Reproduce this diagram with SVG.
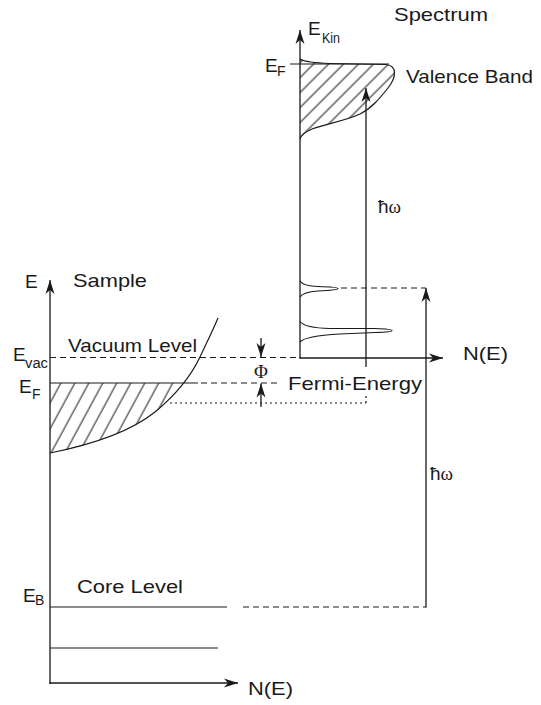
<svg xmlns="http://www.w3.org/2000/svg" width="541" height="705" viewBox="0 0 541 705">
<style>
.ln{stroke:#1a1a1a;stroke-width:1.2;fill:none}
.ax{stroke:#1a1a1a;stroke-width:1.3;fill:none;marker-end:url(#ah)}
.ds{stroke:#1a1a1a;stroke-width:1.2;fill:none;stroke-dasharray:6 4}
.dt{stroke:#1a1a1a;stroke-width:1.2;fill:none;stroke-dasharray:2 3}
.t{font-family:"Liberation Sans",Arial,sans-serif;font-size:19px;fill:#1a1a1a}
.s{font-family:"Liberation Sans",Arial,sans-serif;font-size:14px;fill:#1a1a1a}
.g{font-family:"Liberation Serif","Times New Roman",serif;font-size:19px;fill:#1a1a1a}
</style>
<defs>
<marker id="ah" viewBox="-15 -6 16 12" refX="0" refY="0" markerWidth="16" markerHeight="12" orient="auto" markerUnits="userSpaceOnUse">
<path d="M0,0 L-14,-4.5 L-10,0 L-14,4.5 Z" fill="#1a1a1a"/>
</marker>
<pattern id="hs" width="12.3" height="20" patternUnits="userSpaceOnUse" patternTransform="rotate(28.4)">
<line x1="2" y1="0" x2="2" y2="20" stroke="#1a1a1a" stroke-width="1"/>
</pattern>
<pattern id="hv" width="10.6" height="20" patternUnits="userSpaceOnUse" patternTransform="rotate(45)">
<line x1="2" y1="0" x2="2" y2="20" stroke="#1a1a1a" stroke-width="1"/>
</pattern>
<clipPath id="sc">
<path d="M50,453 C90,445 130,432 155,412 C172,398 190,378 200,357 L50,357 Z"/>
</clipPath>
</defs>

<g id="titles">
<text class="t" x="394" y="21" textLength="94" lengthAdjust="spacingAndGlyphs">Spectrum</text>
<text class="t" x="73" y="287" textLength="74" lengthAdjust="spacingAndGlyphs">Sample</text>
</g>

<g id="sample-axes">
<line class="ax" x1="50" y1="684" x2="50" y2="280"/>
<line class="ax" x1="49.4" y1="683" x2="238" y2="683"/>
<text class="t" x="25" y="288">E</text>
<text class="t" x="248" y="695" textLength="45" lengthAdjust="spacingAndGlyphs">N(E)</text>
</g>

<g id="sample-band">
<rect x="50" y="383" width="160" height="80" fill="url(#hs)" clip-path="url(#sc)"/>
<path class="ln" d="M50,453 C90,445 130,432 155,412 C172,398 190,378 200,357 C207,342 213,330 218,318"/>
</g>

<g id="vacuum-level">
<line class="ds" x1="50" y1="357.5" x2="296" y2="357.5"/>
<text class="t" x="68" y="352" textLength="129" lengthAdjust="spacingAndGlyphs">Vacuum Level</text>
<text class="t" x="13" y="361">E</text>
<text class="s" x="25" y="368" textLength="23" lengthAdjust="spacingAndGlyphs">vac</text>
</g>

<g id="fermi-level">
<line class="ln" x1="50" y1="383" x2="198" y2="383"/>
<line class="ds" x1="201" y1="383" x2="280" y2="383"/>
<text class="t" x="19" y="393">E</text>
<text class="s" x="32" y="399">F</text>
<line class="dt" x1="170" y1="403" x2="366" y2="403"/>
<line class="dt" x1="366" y1="403" x2="366" y2="396"/>
<text class="t" x="288" y="390" textLength="134" lengthAdjust="spacingAndGlyphs">Fermi-Energy</text>
</g>

<g id="work-function">
<line class="ax" x1="261" y1="338" x2="261" y2="357"/>
<line class="ax" x1="261" y1="407" x2="261" y2="383.5"/>
<text class="g" x="261" y="378" text-anchor="middle" font-size="17">Φ</text>
</g>

<g id="core-levels">
<line class="ln" x1="50" y1="607" x2="227" y2="607"/>
<line class="ln" x1="50" y1="648" x2="218" y2="648"/>
<text class="t" x="77" y="593" textLength="106" lengthAdjust="spacingAndGlyphs">Core Level</text>
<text class="t" x="23" y="602">E</text>
<text class="s" x="35" y="605" font-size="13">B</text>
</g>

<g id="spectrum-axes">
<line class="ax" x1="300" y1="358.6" x2="300" y2="30"/>
<line class="ax" x1="299.4" y1="358" x2="443" y2="358"/>
<text class="t" x="308" y="35">E</text>
<text class="s" x="322" y="43" textLength="18" lengthAdjust="spacingAndGlyphs">Kin</text>
<text class="t" x="463" y="360" textLength="45" lengthAdjust="spacingAndGlyphs">N(E)</text>
</g>

<g id="valence-band">
<path d="M300,59 C305,62 315,63 330,63.5 L386,64.5 C398,66 396,78 388,88 C380,98 372,108 360,114 C345,121 325,124 312,129 C305,132 301,136 300,139 Z" fill="url(#hv)" stroke="none"/>
<path class="ln" d="M300,59 C305,62 315,63 330,63.5 L386,64.5 C398,66 396,78 388,88 C380,98 372,108 360,114 C345,121 325,124 312,129 C305,132 301,136 300,139"/>
<line class="ln" x1="290" y1="64" x2="389" y2="64"/>
<text class="t" x="265" y="72">E</text>
<text class="s" x="277" y="76">F</text>
<text class="t" x="406" y="83" textLength="127" lengthAdjust="spacingAndGlyphs">Valence Band</text>
</g>

<g id="core-peaks">
<path class="ln" d="M300,281 Q303,286 318,286.5 Q338,287 338,288.5 Q338,290 318,291 Q303,292 300,297"/>
<path class="ln" d="M300,321.5 Q305,328 330,328.5 L375,328.5 Q392,329 392,330.5 Q392,332 375,332.5 L340,334 Q305,336 300,342"/>
</g>

<g id="connectors">
<line class="ax" x1="366" y1="367" x2="366" y2="88"/>
<text class="g" x="378" y="213"><tspan font-family="Liberation Sans, Arial, sans-serif">ħ</tspan>ω</text>
<line class="ds" x1="243" y1="607" x2="426" y2="607"/>
<line class="ax" x1="426" y1="607.6" x2="426" y2="288"/>
<line class="ds" x1="341" y1="288" x2="426" y2="288"/>
<text class="g" x="430" y="480"><tspan font-family="Liberation Sans, Arial, sans-serif">ħ</tspan>ω</text>
</g>
</svg>
